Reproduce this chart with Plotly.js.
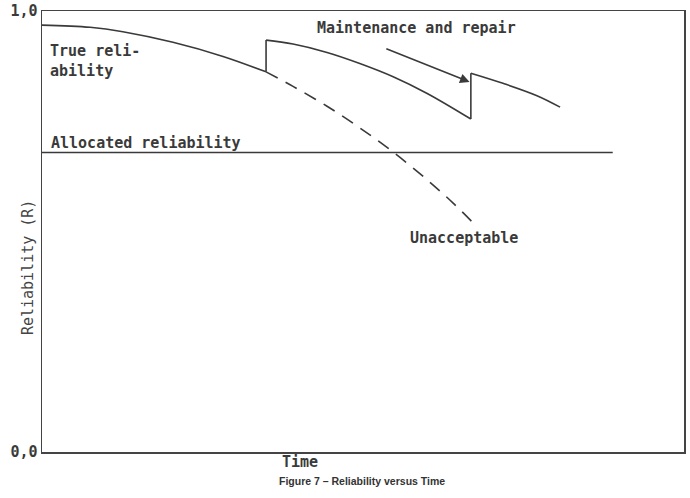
<!DOCTYPE html>
<html>
<head>
<meta charset="utf-8">
<script src="https://cdn.plot.ly/plotly-3.0.1.min.js"></script>
<style>html,body{margin:0;padding:0;background:#fff;}#chart{width:690px;height:498px;}</style>
</head>
<body>
<div id="chart"></div>
<script>
// True reliability, three segments between maintenance actions (time in % of axis, reliability 0..1)
const seg1Time = [0, 7.5, 12.6, 20.4, 28.2, 34.9];
const seg1Rel  = [0.968, 0.963, 0.953, 0.929, 0.897, 0.862];
const seg2Time = [34.9, 39.1, 44.4, 49.5, 54.7, 60.0, 66.8];
const seg2Rel  = [0.934, 0.925, 0.906, 0.881, 0.851, 0.813, 0.755];
const seg3Time = [66.8, 71.8, 77.1, 80.7];
const seg3Rel  = [0.859, 0.836, 0.808, 0.782];
// Unacceptable (no maintenance) continuation
const unaccTime = [34.9, 39.1, 44.4, 49.5, 54.7, 60.0, 64.0, 67.8];
const unaccRel  = [0.862, 0.829, 0.784, 0.735, 0.680, 0.617, 0.565, 0.510];
// Allocated reliability level
const allocTime = [0, 88.9];
const allocRel  = [0.679, 0.679];
// Axis ticks
const yTickVals = [0, 1];
const yTickText = ['0,0', '1,0'];

const ink = '#3a3a3a';
const mono = 'DejaVu Sans Mono, monospace';
const solid = {color: ink, width: 1.6, shape: 'spline', smoothing: 1};
const straight = {color: ink, width: 1.6};

const last = a => a[a.length - 1];
const traces = [
  {x: seg1Time, y: seg1Rel, mode: 'lines', line: solid},
  {x: [last(seg1Time), seg2Time[0]], y: [last(seg1Rel), seg2Rel[0]], mode: 'lines', line: straight},
  {x: seg2Time, y: seg2Rel, mode: 'lines', line: solid},
  {x: [last(seg2Time), seg3Time[0]], y: [last(seg2Rel), seg3Rel[0]], mode: 'lines', line: straight},
  {x: seg3Time, y: seg3Rel, mode: 'lines', line: solid},
  {x: unaccTime, y: unaccRel, mode: 'lines', line: {color: ink, width: 1.6, dash: '13px,9px', shape: 'spline', smoothing: 1}},
  {x: allocTime, y: allocRel, mode: 'lines', line: straight}
];
traces.forEach(t => t.hoverinfo = 'skip');

const txt = {family: mono, size: 15, color: ink, weight: 'bold'};

const layout = {
  width: 690, height: 498,
  margin: {l: 42, r: 6, t: 11, b: 46},
  paper_bgcolor: '#fff', plot_bgcolor: '#fff',
  showlegend: false,
  xaxis: {range: [0, 100], showgrid: false, zeroline: false, showticklabels: false, ticks: '',
          showline: true, mirror: true, linecolor: '#444', linewidth: 1.5},
  yaxis: {range: [0, 1], showgrid: false, zeroline: false, ticks: '',
          tickvals: yTickVals, ticktext: yTickText, tickfont: txt,
          showline: true, mirror: true, linecolor: '#444', linewidth: 1.5},
  annotations: [
    {x: 0.9, y: 0.887, xref: 'x', yref: 'y', text: 'True reli-<br>ability', showarrow: false,
     xanchor: 'left', yanchor: 'middle', align: 'left', font: txt},
    {x: 58.4, y: 0.961, xref: 'x', yref: 'y', text: 'Maintenance and repair', showarrow: false,
     xanchor: 'center', yanchor: 'middle', font: txt},
    {x: 1.1, y: 0.701, xref: 'x', yref: 'y', text: 'Allocated reliability', showarrow: false,
     xanchor: 'left', yanchor: 'middle', font: txt},
    {x: 65.7, y: 0.485, xref: 'x', yref: 'y', text: 'Unacceptable', showarrow: false,
     xanchor: 'center', yanchor: 'middle', font: txt},
    {x: 66.6, y: 0.839, ax: 53.4, ay: 0.916, xref: 'x', yref: 'y', axref: 'x', ayref: 'y',
     text: '', showarrow: true, arrowhead: 2, arrowsize: 1.2, arrowwidth: 1.6, arrowcolor: ink},
    {x: -0.0218, y: 0.417, xref: 'paper', yref: 'paper', text: 'Reliability (R)', showarrow: false,
     textangle: -90, xanchor: 'center', yanchor: 'middle', font: {family: mono, size: 15, color: '#444'}},
    {x: 0.402, y: -0.0227, xref: 'paper', yref: 'paper', text: 'Time', showarrow: false,
     xanchor: 'center', yanchor: 'middle', font: txt},
    {x: 0.498, y: -0.066, xref: 'paper', yref: 'paper', text: 'Figure 7 – Reliability versus Time', showarrow: false,
     xanchor: 'center', yanchor: 'middle', font: {family: 'Liberation Sans, Arial, sans-serif', size: 10.5, color: '#333', weight: 'bold'}}
  ]
};

Plotly.newPlot('chart', traces, layout, {staticPlot: true, displayModeBar: false});
</script>
</body>
</html>
